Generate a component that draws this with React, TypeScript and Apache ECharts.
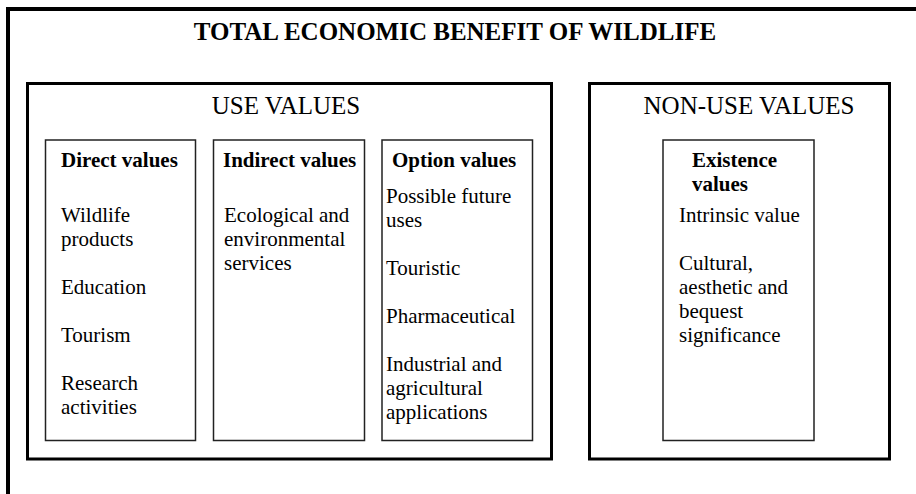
import React, { useEffect, useRef } from "react";
import * as echarts from "echarts";

const title = "TOTAL ECONOMIC BENEFIT OF WILDLIFE";
const groupTitles = ["USE VALUES", "NON-USE VALUES"];
const columnHeaders = ["Direct values", "Indirect values", "Option values", "Existence\nvalues"];
const directItems = ["Wildlife\nproducts", "Education", "Tourism", "Research\nactivities"];
const indirectItems = ["Ecological and\nenvironmental\nservices"];
const optionItems = ["Possible future\nuses", "Touristic", "Pharmaceutical", "Industrial and\nagricultural\napplications"];
const existenceItems = ["Intrinsic value", "Cultural,\naesthetic and\nbequest\nsignificance"];

const FONT = "'Liberation Serif', 'Times New Roman', 'DejaVu Serif', serif";

export default function App() {
  const ref = useRef<HTMLDivElement>(null);
  useEffect(() => {
    document.body.style.margin = "0";
    if (!ref.current) return;
    const chart = echarts.init(ref.current, null, { renderer: "svg" });

    const boxes = [
      { x: 45.5, y: 140, w: 150, h: 300.5 },
      { x: 213.5, y: 140, w: 151, h: 300.5 },
      { x: 382, y: 140, w: 150.5, h: 300.5 },
      { x: 663, y: 140, w: 151, h: 300.5 },
    ];
    const headerPos = [
      { x: 61, y: 160 },
      { x: 223, y: 160 },
      { x: 392, y: 160 },
      { x: 692, y: 160 },
    ];
    const bodies = [
      { items: directItems, x: 61, y: 215 },
      { items: indirectItems, x: 224, y: 215 },
      { items: optionItems, x: 386, y: 196 },
      { items: existenceItems, x: 679, y: 215 },
    ];
    const LH = 24;

    const elements: any[] = [];
    elements.push({
      type: "rect",
      shape: { x: 8, y: 9, width: 1200, height: 1000 },
      style: { fill: "none", stroke: "#000", lineWidth: 4 },
    });
    elements.push({
      type: "rect",
      shape: { x: 27.5, y: 83.5, width: 524, height: 375.5 },
      style: { fill: "none", stroke: "#000", lineWidth: 3 },
    });
    elements.push({
      type: "rect",
      shape: { x: 589.5, y: 83.5, width: 300, height: 375.5 },
      style: { fill: "none", stroke: "#000", lineWidth: 3 },
    });
    boxes.forEach((b) => {
      elements.push({
        type: "rect",
        shape: { x: b.x, y: b.y, width: b.w, height: b.h },
        style: { fill: "none", stroke: "#222", lineWidth: 1.5 },
      });
    });
    elements.push({
      type: "text",
      x: 455,
      y: 31,
      style: {
        text: title,
        fontFamily: FONT,
        fontSize: 25,
        fontWeight: "bold",
        fill: "#000",
        textAlign: "center",
        textVerticalAlign: "middle",
      },
    });
    const gx = [286, 749];
    groupTitles.forEach((t, i) => {
      elements.push({
        type: "text",
        x: gx[i],
        y: 105,
        style: {
          text: t,
          fontFamily: FONT,
          fontSize: 25,
          fill: "#000",
          textAlign: "center",
          textVerticalAlign: "middle",
        },
      });
    });
    columnHeaders.forEach((h, i) => {
      elements.push({
        type: "text",
        x: headerPos[i].x,
        y: headerPos[i].y - LH / 2,
        style: {
          text: h,
          fontFamily: FONT,
          fontSize: 21,
          fontWeight: "bold",
          lineHeight: LH,
          fill: "#000",
          textAlign: "left",
          textVerticalAlign: "top",
        },
      });
    });
    bodies.forEach((b) => {
      elements.push({
        type: "text",
        x: b.x,
        y: b.y - LH / 2,
        style: {
          text: b.items.join("\n\n"),
          fontFamily: FONT,
          fontSize: 21,
          lineHeight: LH,
          fill: "#000",
          textAlign: "left",
          textVerticalAlign: "top",
        },
      });
    });

    chart.setOption({
      animation: false,
      backgroundColor: "#fff",
      graphic: { elements },
    });
    return () => chart.dispose();
  }, []);
  return <div ref={ref} style={{ width: 916, height: 494 }} />;
}
